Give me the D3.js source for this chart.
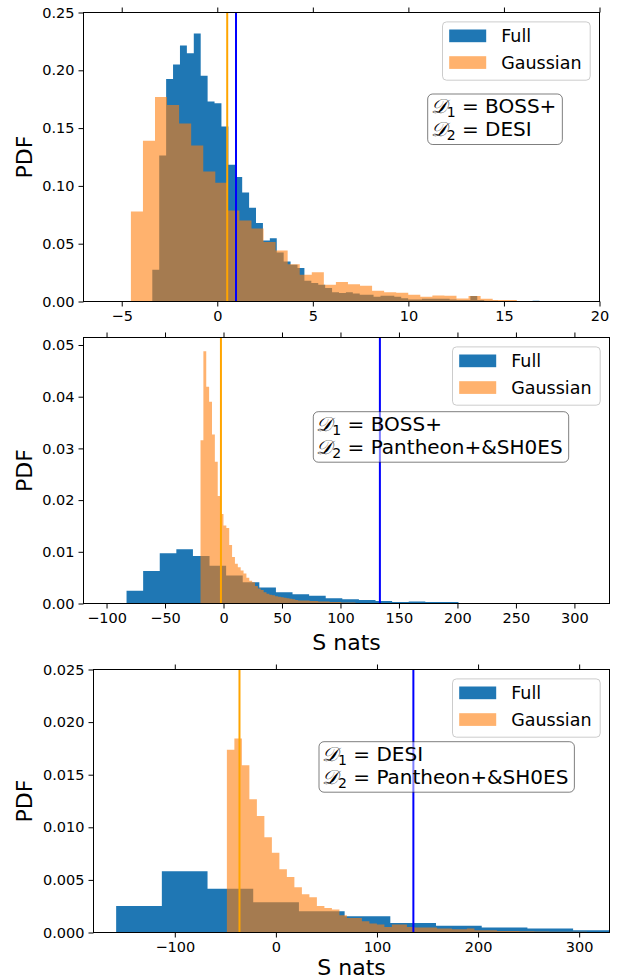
<!DOCTYPE html>
<html><head><meta charset="utf-8">
<script src="https://cdn.jsdelivr.net/npm/d3@7"></script>
<style>
body{margin:0;background:#fff}
svg{display:block}
text{font-family:"DejaVu Sans",sans-serif;fill:#000}
</style>
</head><body>
<svg id="chart" width="628" height="980"></svg>
<script>
// ---------------- DATA ----------------
const seriesNames = ["Full", "Gaussian"];

// Panel 1: D1 = BOSS+, D2 = DESI
const p1FullStart = -3.40, p1FullWidth = 0.3618;
const p1Full = [0.0274,0.1263,0.1924,0.2050,0.2215,0.2148,0.2318,0.1952,0.1730,0.1716,
  0.1514,0.1182,0.1076,0.0943,0.0810,0.0678,0.0528,0.0548,0.0424,0.0346,
  0.0317,0.0289,0.0179,0.0159,0.0144,0.0116,0.0081,0.0073,0.0081,0.0069,
  0.0058,0.0058,0.0041,0.0049,0.0049,0.0041,0.0029,0.0017,0.0017,0.0023,
  0.0023,0.0023,0.0023,0.0017,0.0012,0.0012,0.0047,0.0012,0.0006,0.0006,
  0.0003,0.0003,0.0003,0.0000,0.0003,0.0006,0.0003,0.0003,0.0000,0.0003];
const p1GaussStart = -4.52, p1GaussWidth = 0.631;
const p1Gauss = [0.0779,0.139,0.177,0.170,0.154,0.135,0.1125,0.1027,0.0787,0.070,
  0.0632,0.0514,0.0441,0.0323,0.0231,0.0254,0.0144,0.0168,0.0150,0.0136,
  0.0093,0.0081,0.0075,0.0058,0.0041,0.0052,0.0049,0.0026,0.0047,0.0023,
  0.0012,0.0012];
const p1FullLine = 0.98, p1GaussLine = 0.52;
const p1XTicks = [-5, 0, 5, 10, 15, 20];
const p1YTicks = [0, 0.05, 0.10, 0.15, 0.20, 0.25];
const p1Labels = ["BOSS+", "DESI"];

// Panel 2: D1 = BOSS+, D2 = Pantheon+&SH0ES
const p2FullStart = -82.9, p2FullWidth = 14.19;
const p2Full = [0.00246,0.00627,0.0097,0.0105,0.0092,0.0073,0.0054,0.0041,0.0031,0.0022,
  0.0018,0.0015,0.0010,0.0008,0.0007,0.0005,0.0003,0.0004,0.0003,0.0003];
const p2GaussStart = -19.66, p2GaussWidth = 2.453;
const p2Gauss = [0.0316,0.0488,0.0419,0.0390,0.0327,0.0274,0.0208,0.0173,0.0151,0.0146,
  0.0113,0.0090,0.0077,0.0070,0.0064,0.0058,0.0050,0.0044,0.0041,0.0034,
  0.0029,0.0026,0.0022,0.0019,0.0017,0.0016,0.0014,0.0013,0.0012,0.0011,
  0.0010,0.0009,0.0008,0.0007,0.0006,0.0006,0.0006,0.0006,0.0005,0.0005,
  0.0005,0.0004,0.0004,0.0004,0.0004,0.0003,0.0003,0.0003,0.0003,0.0002,
  0.0002,0.0002,0.0002,0.0002,0.0001,0.0001,0.0001,0.0001,0.0001,0.0001];
const p2FullLine = 133.7, p2GaussLine = -2.2;
const p2XTicks = [-100, -50, 0, 50, 100, 150, 200, 250, 300];
const p2YTicks = [0, 0.01, 0.02, 0.03, 0.04, 0.05];
const p2Labels = ["BOSS+", "Pantheon+&SH0ES"];

// Panel 3: D1 = DESI, D2 = Pantheon+&SH0ES
const p3FullStart = -158, p3FullWidth = 45.2;
const p3Full = [0.00253,0.00582,0.00415,0.00288,0.00203,0.00155,0.00091,0.00063,0.00047,0.00038,0.00022];
const p3GaussStart = -48.47, p3GaussWidth = 7.42;
const p3Gauss = [0.01737,0.01845,0.01589,0.01266,0.01108,0.00905,0.00759,0.00601,0.00528,0.0043,
  0.00364,0.00335,0.00253,0.00234,0.00218,0.00164,0.00139,0.00139,0.00107,0.00085,
  0.00076,0.00053,0.00076,0.00076,0.00053,0.00047,0.00047,0.00047,0.00038,0.00038,
  0.00031,0.00031,0.00038,0.00022,0.00022,0.00022,0.00015,0.00015,0.00015,0.00012,
  0.00012,0.0001,0.0001,0.00008,0.00008,0.00008,0.00006,0.00006,0.00005,0.00005,
  0.00004,0.00004];
const p3FullLine = 136, p3GaussLine = -36;
const p3XTicks = [-100, 0, 100, 200, 300];
const p3YTicks = [0, 0.005, 0.010, 0.015, 0.020, 0.025];
const p3Labels = ["DESI", "Pantheon+&SH0ES"];

// ---------------- LAYOUT ----------------
const panels = [
  {l:83.5, r:599.5, t:12.5, b:301.5, xd:[-7.0, 20.0], yd:[0, 0.25], yfmt:".2f",
   full:[p1FullStart,p1FullWidth,p1Full], gauss:[p1GaussStart,p1GaussWidth,p1Gauss],
   fullLine:p1FullLine, gaussLine:p1GaussLine, xt:p1XTicks, yt:p1YTicks, labels:p1Labels,
   box:[427.7, 94], xlabel:null},
  {l:83.5, r:609.5, t:337.5, b:603.5, xd:[-119.7, 330], yd:[0, 0.05145], yfmt:".2f",
   full:[p2FullStart,p2FullWidth,p2Full], gauss:[p2GaussStart,p2GaussWidth,p2Gauss],
   fullLine:p2FullLine, gaussLine:p2GaussLine, xt:p2XTicks, yt:p2YTicks, labels:p2Labels,
   box:[313.3, 411.7], xlabel:46},
  {l:93.5, r:609.5, t:669.5, b:932.5, xd:[-180.4, 330], yd:[0, 0.025], yfmt:".3f",
   full:[p3FullStart,p3FullWidth,p3Full], gauss:[p3GaussStart,p3GaussWidth,p3Gauss],
   fullLine:p3FullLine, gaussLine:p3GaussLine, xt:p3XTicks, yt:p3YTicks, labels:p3Labels,
   box:[319, 741.7], xlabel:42.5}
];

const C_FULL = "#1f77b4", C_GAUSS = "#ff7f0e";
const svg = d3.select("#chart");

panels.forEach((p, pi) => {
  const x = d3.scaleLinear().domain(p.xd).range([p.l, p.r]);
  const y = d3.scaleLinear().domain(p.yd).range([p.b, p.t]);
  const g = svg.append("g");
  const clipId = "clip" + pi;
  svg.append("clipPath").attr("id", clipId).append("rect")
    .attr("x", p.l).attr("y", p.t).attr("width", p.r - p.l).attr("height", p.b - p.t);
  const plot = g.append("g").attr("clip-path", `url(#${clipId})`);

  function histPath(start, width, vals) {
    const path = d3.path();
    vals.forEach((v, i) => {
      if (v <= 0) return;
      const x0 = x(start + i * width), x1 = x(start + (i + 1) * width);
      path.moveTo(x0, y(0)); path.lineTo(x0, y(v)); path.lineTo(x1, y(v)); path.lineTo(x1, y(0)); path.closePath();
    });
    return path.toString();
  }
  plot.append("path").attr("d", histPath(...p.full)).attr("fill", C_FULL);
  plot.append("path").attr("d", histPath(...p.gauss)).attr("fill", C_GAUSS).attr("fill-opacity", 0.6);

  plot.append("line").attr("x1", x(p.gaussLine)).attr("x2", x(p.gaussLine))
    .attr("y1", p.t).attr("y2", p.b).attr("stroke", "orange").attr("stroke-width", 2);
  plot.append("line").attr("x1", x(p.fullLine)).attr("x2", x(p.fullLine))
    .attr("y1", p.t).attr("y2", p.b).attr("stroke", "blue").attr("stroke-width", 2);

  // axes
  const fs = 14.5;
  const xAx = d3.axisBottom(x).tickValues(p.xt).tickFormat(d3.format("d")).tickSize(5).tickPadding(4);
  const xg = g.append("g").attr("transform", `translate(0,${p.b})`).call(xAx);
  const xTop = d3.axisTop(x).tickValues(p.xt).tickFormat("").tickSize(5);
  const xtg = g.append("g").attr("transform", `translate(0,${p.t})`).call(xTop);
  const yAx = d3.axisLeft(y).tickValues(p.yt).tickFormat(d3.format(p.yfmt)).tickSize(5).tickPadding(4);
  const yg = g.append("g").attr("transform", `translate(${p.l},0)`).call(yAx);
  [xg, xtg, yg].forEach(a => {
    a.select(".domain").remove();
    a.selectAll("line").attr("stroke", "#000").attr("stroke-width", 1);
    a.selectAll("text").style("font-size", fs + "px").style("font-family", "DejaVu Sans").attr("fill", "#000");
  });
  g.append("rect").attr("x", p.l).attr("y", p.t).attr("width", p.r - p.l).attr("height", p.b - p.t)
    .attr("fill", "none").attr("stroke", "#000").attr("stroke-width", 1);

  // axis labels
  g.append("text").attr("transform", `translate(32,${(p.t + p.b) / 2}) rotate(-90)`)
    .attr("text-anchor", "middle").style("font-size", "22px").text("PDF");
  if (p.xlabel) {
    g.append("text").attr("x", (p.l + p.r) / 2).attr("y", p.b + p.xlabel)
      .attr("text-anchor", "middle").style("font-size", "22px").text("S nats");
  }

  // text box
  const bx = p.box[0], by = p.box[1];
  const tb = g.append("g");
  const boxRect = tb.append("rect");
  const tg = tb.append("g");
  p.labels.forEach((lab, i) => {
    const t = tg.append("text").attr("x", bx + 3).attr("y", by + 19.3 + i * 22.6).style("font-size", "20px");
    t.append("tspan").style("font-family", "DejaVu Serif").style("font-style", "italic").text("\u{1D49F}");
    t.append("tspan").attr("dy", 4).style("font-size", "14px").text(String(i + 1));
    t.append("tspan").attr("dy", -4).text(" = " + lab);
  });
  const bb = tg.node().getBBox();
  boxRect.attr("x", bx).attr("y", by).attr("width", bb.x + bb.width + 6 - bx).attr("height", 50.5)
    .attr("rx", 5).attr("fill", "#fff").attr("fill-opacity", 0.5)
    .attr("stroke", "#000").attr("stroke-opacity", 0.5).attr("stroke-width", 1);

  // legend
  const lw = 147.7, lh = 58.3, lx = p.r - 9.3 - lw, ly = p.t + 9.4;
  const lg = g.append("g");
  lg.append("rect").attr("x", lx).attr("y", ly).attr("width", lw).attr("height", lh).attr("rx", 4)
    .attr("fill", "#fff").attr("fill-opacity", 0.8).attr("stroke", "#cccccc").attr("stroke-width", 1);
  seriesNames.forEach((nm, i) => {
    lg.append("rect").attr("x", lx + 6.7).attr("y", ly + 7.6 + i * 26.7).attr("width", 37).attr("height", 12.7)
      .attr("fill", i === 0 ? C_FULL : C_GAUSS).attr("fill-opacity", i === 0 ? 1 : 0.6);
    lg.append("text").attr("x", lx + 58.7).attr("y", ly + 20.3 + i * 26.7).style("font-size", "17.5px").text(nm);
  });
});
</script>
</body></html>
